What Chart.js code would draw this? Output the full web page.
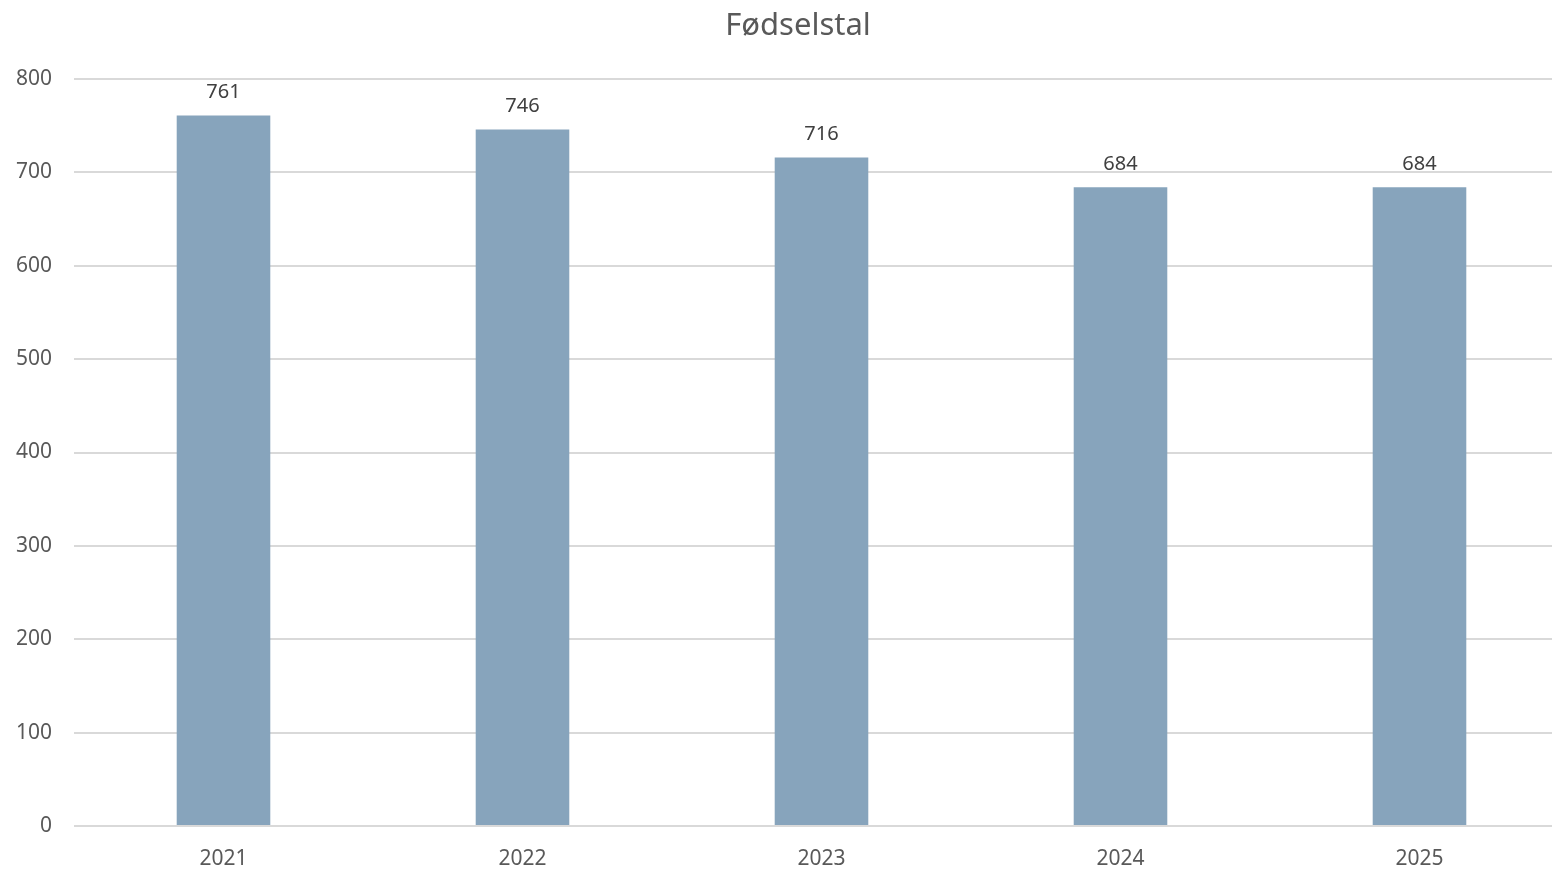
<!DOCTYPE html>
<html>
<head>
<meta charset="utf-8">
<title>Fødselstal</title>
<script src="https://cdn.jsdelivr.net/npm/chart.js@4"></script>
<style>
  html, body { margin: 0; padding: 0; background: #fff; overflow: hidden; }
  #wrap { width: 1552px; height: 871px; overflow: hidden; }
</style>
</head>
<body>
<div id="wrap"><canvas id="births" width="1570" height="871"></canvas></div>
<script>
const years = ['2021', '2022', '2023', '2024', '2025'];
const births = [761, 746, 716, 684, 684];
const yTicks = [0, 100, 200, 300, 400, 500, 600, 700, 800];
const chartTitle = 'Fødselstal';

const FONT = '"Noto Sans", "Open Sans", sans-serif';

// title sits centred on the visible picture, not on the wider canvas
const titleText = {
    id: 'titleText',
    afterDraw(chart) {
        const ctx = chart.ctx;
        ctx.save();
        ctx.font = '31px ' + FONT;
        ctx.fillStyle = '#595959';
        ctx.textAlign = 'center';
        ctx.textBaseline = 'middle';
        ctx.fillText(chartTitle, 798, 26);
        ctx.restore();
    }
};

// draws the value above each bar
const valueLabels = {
    id: 'valueLabels',
    afterDatasetsDraw(chart) {
        const ctx = chart.ctx;
        const meta = chart.getDatasetMeta(0);
        ctx.save();
        ctx.font = '20px ' + FONT;
        ctx.fillStyle = '#404040';
        ctx.textAlign = 'center';
        ctx.textBaseline = 'bottom';
        meta.data.forEach((bar, i) => {
            ctx.fillText(births[i], bar.x, bar.y - 13);
        });
        ctx.restore();
    }
};

new Chart(document.getElementById('births'), {
    type: 'bar',
    data: {
        labels: years,
        datasets: [{
            label: chartTitle,
            data: births,
            backgroundColor: '#87a4bc',
            borderWidth: 0,
            barPercentage: 0.313,
            categoryPercentage: 1
        }]
    },
    options: {
        responsive: false,
        animation: false,
        devicePixelRatio: 1,
        layout: { padding: { top: 79, right: 1, left: 0, bottom: 0 } },
        plugins: {
            legend: { display: false },
            tooltip: { enabled: false },
            title: { display: false }
        },
        scales: {
            x: {
                grid: { display: false, drawTicks: false },
                border: { display: false },
                ticks: { color: '#595959', font: { family: FONT, size: 21 }, padding: 20 },
                afterFit(scale) { scale.height = 45; }
            },
            y: {
                min: 0,
                max: 800,
                afterBuildTicks(scale) { scale.ticks = yTicks.map(v => ({ value: v })); },
                grid: { color: '#d9d9d9', lineWidth: 2, drawTicks: false },
                border: { display: false },
                ticks: { color: '#595959', font: { family: FONT, size: 21 }, padding: 22 },
                afterFit(scale) { scale.width = 74; }
            }
        }
    },
    plugins: [valueLabels, titleText]
});
</script>
</body>
</html>
